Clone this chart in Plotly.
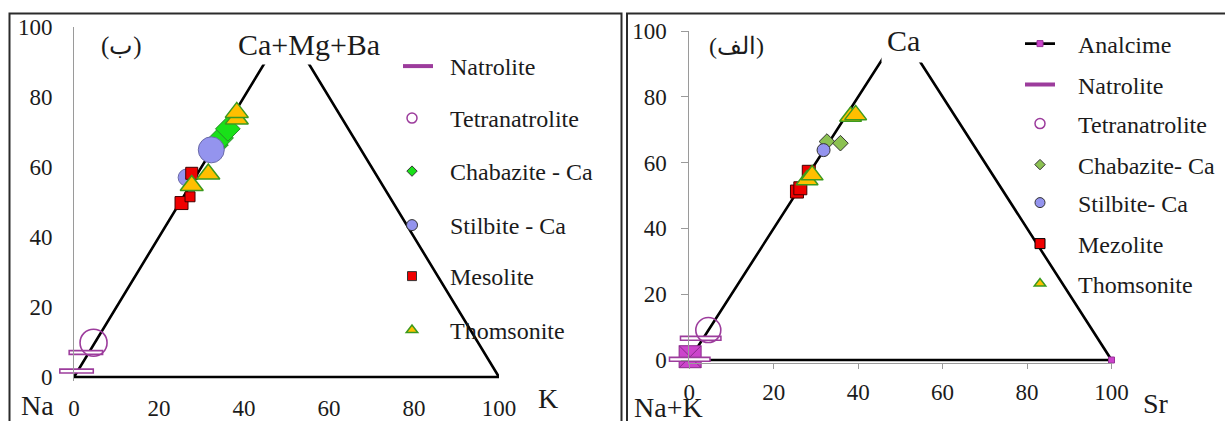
import plotly.graph_objects as go

# ===================== DATA =====================
# triangle outline (x, y in the Excel-style 0..100 frame)
tri_x = [0, 50, 100, 0]
tri_y = [0, 100, 0, 0]

# ---- left panel (ب) : Na / Ca+Mg+Ba / K ----
l_natrolite_x = [0.6, 2.8]
l_natrolite_y = [1.7, 7.0]
l_tetranatrolite_x = [4.6]
l_tetranatrolite_y = [9.8]
l_chabazite_x = [33.4, 34.6, 36.2]
l_chabazite_y = [66.3, 68.3, 70.9]
l_stilbite_x = [26.5, 32.3]
l_stilbite_y = [57.0, 64.9]
l_mesolite_x = [25.3, 27.3, 27.7]
l_mesolite_y = [49.7, 51.5, 58.2]
l_thomsonite_x = [27.7, 31.6, 38.3, 38.3]
l_thomsonite_y = [54.7, 58.0, 73.7, 75.6]

# ---- right panel (الف) : Na+K / Ca / Sr ----
r_analcime_x = [0.2]
r_analcime_y = [1.0]
r_natrolite_x = [0.1, 2.7]
r_natrolite_y = [0.2, 6.6]
r_tetranatrolite_x = [4.5]
r_tetranatrolite_y = [9.1]
r_chabazite_x = [32.6, 35.8]
r_chabazite_y = [66.4, 65.9]
r_stilbite_x = [31.8]
r_stilbite_y = [63.8]
r_mezolite_x = [25.5, 26.3, 28.3]
r_mezolite_y = [51.2, 52.2, 57.2]
r_thomsonite_x = [27.9, 29.1, 38.2, 39.4]
r_thomsonite_y = [54.7, 56.2, 74.0, 74.5]

tick_vals = [0, 20, 40, 60, 80, 100]
tick_text = ["0", "20", "40", "60", "80", "100"]

left_names = ["Natrolite", "Tetranatrolite", "Chabazite - Ca", "Stilbite - Ca", "Mesolite", "Thomsonite"]
right_names = ["Analcime", "Natrolite", "Tetranatrolite", "Chabazite- Ca", "Stilbite- Ca", "Mezolite", "Thomsonite"]

# ===================== STYLE =====================
W, H = 1225, 421
FONT = "Liberation Serif"
INK = "#1b1b1b"
AXIS_GREY = "#9a9a9a"
PURPLE = "#9c3c9c"
MAGENTA = "#cc44cc"
GREEN_L = "#19e019"
GREEN_L_EDGE = "#2a8a2a"
GREEN_R = "#8cc152"
BLUE = "#9494ee"
RED = "#f00000"
GOLD = "#ffbf00"
TRI_EDGE = "#3c9a1e"
DARK = "#333333"
NBSP = "\u00a0"


def px(p):
    return p / W


def py(p):
    return 1 - p / H


def dom_x(p0, p100, lo, hi):
    k = (p100 - p0) / 100.0
    return [(p0 + k * lo) / W, (p0 + k * hi) / W]


def dom_y(p0, p100, lo, hi):
    k = (p100 - p0) / 100.0
    return [1 - (p0 + k * lo) / H, 1 - (p0 + k * hi) / H]


fig = go.Figure()


def pts(x, y, ax, symbol, size, fill, edge, ew):
    xa, ya = ax
    fig.add_trace(go.Scatter(
        x=x, y=y, xaxis=xa, yaxis=ya, mode="markers", showlegend=False,
        cliponaxis=False, hoverinfo="skip",
        marker=dict(symbol=symbol, size=size, color=fill, opacity=1,
                    line=dict(color=edge, width=ew))))


def natrolite(x, y, ax, size):
    xa, ya = ax
    fig.add_trace(go.Scatter(
        x=x, y=y, xaxis=xa, yaxis=ya, mode="markers", showlegend=False,
        cliponaxis=False, hoverinfo="skip",
        marker=dict(symbol="line-ew", size=size, opacity=1,
                    line=dict(color=PURPLE, width=5.5))))
    fig.add_trace(go.Scatter(
        x=x, y=y, xaxis=xa, yaxis=ya, mode="markers", showlegend=False,
        cliponaxis=False, hoverinfo="skip",
        marker=dict(symbol="line-ew", size=size - 2.2, opacity=1,
                    line=dict(color="white", width=2.2))))


def legend_entry(lid, name, nb, mode="markers", marker=None, line=None):
    fig.add_trace(go.Scatter(
        x=[None], y=[None], mode=mode, name=NBSP * nb + name, legend=lid,
        showlegend=True, hoverinfo="skip", marker=marker, line=line))


LEFT = ("x", "y")
RIGHT = ("x2", "y2")

# ---------- left panel ----------
fig.add_trace(go.Scatter(x=tri_x, y=tri_y, xaxis="x", yaxis="y", mode="lines",
                         line=dict(color="black", width=2.6), showlegend=False,
                         hoverinfo="skip"))
natrolite(l_natrolite_x, l_natrolite_y, LEFT, 25)
pts(l_tetranatrolite_x, l_tetranatrolite_y, LEFT, "circle-open", 27, PURPLE, PURPLE, 1.6)
pts(l_chabazite_x, l_chabazite_y, LEFT, "diamond", 19, GREEN_L, GREEN_L_EDGE, 1)
pts(l_stilbite_x, l_stilbite_y, LEFT, "circle", [17, 26], BLUE, "#6a6aa8", 1)
pts(l_mesolite_x, l_mesolite_y, LEFT, "square", [13, 10, 12], RED, "#400000", 1)
pts(l_thomsonite_x, l_thomsonite_y, LEFT, "triangle-up", 20, GOLD, TRI_EDGE, 1.5)

# ---------- right panel ----------
fig.add_trace(go.Scatter(x=tri_x, y=tri_y, xaxis="x2", yaxis="y2", mode="lines+markers",
                         name=NBSP * 3 + right_names[0], legend="legend7", showlegend=True,
                         line=dict(color="black", width=2.6), cliponaxis=False,
                         marker=dict(symbol="square", size=6, color=MAGENTA,
                                     line=dict(color="#993399", width=1)),
                         hoverinfo="skip"))
pts(r_analcime_x, r_analcime_y, RIGHT, "square-x", 22, MAGENTA, "#8a2a8a", 1)
natrolite(r_natrolite_x, r_natrolite_y, RIGHT, 30)
pts(r_tetranatrolite_x, r_tetranatrolite_y, RIGHT, "circle-open", 25, PURPLE, PURPLE, 1.6)
pts(r_chabazite_x, r_chabazite_y, RIGHT, "diamond", 12, GREEN_R, DARK, 1)
pts(r_stilbite_x, r_stilbite_y, RIGHT, "circle", 13, BLUE, DARK, 1)
pts(r_mezolite_x, r_mezolite_y, RIGHT, "square", 13, RED, "#400000", 1)
pts(r_thomsonite_x, r_thomsonite_y, RIGHT, "triangle-up", 19, GOLD, TRI_EDGE, 1.5)

# ---------- legend entries (symbols only, each placed on its own row) ----------
left_syms = [
    dict(mode="lines", line=dict(color=PURPLE, width=4)),
    dict(marker=dict(symbol="circle-open", size=10, color=PURPLE, line=dict(width=1.5, color=PURPLE))),
    dict(marker=dict(symbol="diamond", size=8, color=GREEN_L, line=dict(width=1, color=DARK))),
    dict(marker=dict(symbol="circle", size=11, color=BLUE, line=dict(width=1, color=DARK))),
    dict(marker=dict(symbol="square", size=9, color=RED, line=dict(width=1, color=DARK))),
    dict(marker=dict(symbol="triangle-up", size=10, color=GOLD, line=dict(width=1.5, color=TRI_EDGE))),
]
right_syms = [
    None,
    dict(mode="lines", line=dict(color=PURPLE, width=4)),
    dict(marker=dict(symbol="circle-open", size=10, color=PURPLE, line=dict(width=1.5, color=PURPLE))),
    dict(marker=dict(symbol="diamond", size=8, color=GREEN_R, line=dict(width=1, color=DARK))),
    dict(marker=dict(symbol="circle", size=10, color=BLUE, line=dict(width=1, color=DARK))),
    dict(marker=dict(symbol="square", size=10, color=RED, line=dict(width=1, color="black"))),
    dict(marker=dict(symbol="triangle-up", size=10, color=GOLD, line=dict(width=1.5, color=TRI_EDGE))),
]
left_rows = [66.5, 118.5, 171.5, 225.5, 276.5, 330.5]
right_rows = [44, 85, 124, 165, 203, 244, 284]

legend_layout = {}
for i, (nm, s) in enumerate(zip(left_names, left_syms)):
    lid = "legend" if i == 0 else "legend%d" % (i + 1)
    legend_entry(lid, nm, 2 if i == 0 else 3, **s)
    legend_layout[lid] = dict(x=px(398 if i == 0 else 392), y=py(left_rows[i]),
                              xanchor="left", yanchor="middle")
for j, (nm, s) in enumerate(zip(right_names, right_syms)):
    lid = "legend%d" % (j + 7)
    if s is not None:
        legend_entry(lid, nm, 3, **s)
    legend_layout[lid] = dict(x=px(1020), y=py(right_rows[j]),
                              xanchor="left", yanchor="middle")
for lid, d in legend_layout.items():
    d.update(xref="container", yref="container",
             bgcolor="rgba(0,0,0,0)", borderwidth=0, itemsizing="trace",
             font=dict(family=FONT, size=24, color=INK), itemclick=False,
             itemdoubleclick=False)

# ---------- axes ----------
tickfont = dict(family=FONT, size=23, color=INK)
axis_common = dict(tickvals=tick_vals, ticktext=tick_text, showgrid=False,
                   zeroline=False, tickfont=tickfont, fixedrange=True, automargin=False)

fig.update_layout(
    width=W, height=H, autosize=False,
    margin=dict(l=0, r=0, t=0, b=0, pad=0, autoexpand=False),
    font=dict(family=FONT, color=INK),
    paper_bgcolor="white", plot_bgcolor="rgba(0,0,0,0)",
    showlegend=True,
    xaxis=dict(axis_common, domain=dom_x(74, 499, 0, 100), range=[0, 100], anchor="y",
               showline=False, ticks="", ticklabelstandoff=11),
    yaxis=dict(axis_common, domain=dom_y(377, 27, -1, 100), range=[-1, 100], anchor="x",
               showline=True, linecolor=AXIS_GREY, linewidth=1, ticks="",
               ticklabelstandoff=16),
    xaxis2=dict(axis_common, domain=dom_x(689.3, 1111.5, 0, 100), range=[0, 100], anchor="y2",
                showline=True, linecolor=AXIS_GREY, linewidth=1, ticks="outside",
                ticklen=5, tickcolor=AXIS_GREY, ticklabelstandoff=3),
    yaxis2=dict(axis_common, domain=dom_y(360, 31, -1, 100), range=[-1, 100], anchor="x2",
                showline=True, linecolor=AXIS_GREY, linewidth=1, ticks="outside",
                ticklen=7, tickcolor=AXIS_GREY, ticklabelstandoff=10),
    **legend_layout,
)

# ---------- frames ----------
fig.add_shape(type="rect", xref="paper", yref="paper", x0=px(9.5), x1=px(621.5),
              y0=py(440), y1=py(13.5), line=dict(color="#2b2b2b", width=2), layer="below")
fig.add_shape(type="rect", xref="paper", yref="paper", x0=px(627), x1=px(1240),
              y0=py(440), y1=py(13.5), line=dict(color="#2b2b2b", width=2), layer="below")

# ---------- texts ----------
def note(text, x, y, size, bg=None, yanchor="middle", pad=1):
    fig.add_annotation(text=text, xref="paper", yref="paper", x=px(x), y=py(y),
                       xanchor="center", yanchor=yanchor, showarrow=False,
                       font=dict(family=FONT, size=size, color=INK),
                       bgcolor=bg, borderpad=pad)

note("Ca+Mg+Ba", 309, 65, 30, bg="white", yanchor="bottom", pad=3)
note("Ca", 903, 63, 30, bg="white", yanchor="bottom", pad=5)
note("(ب)", 121, 46, 25)
note("(الف)", 736, 46, 24)
note("Na", 37, 405, 28)
note("K", 548, 398, 28)
note("Na+K", 668, 407, 28)
note("Sr", 1156, 403, 28)

fig.write_html("out.html", config={"displayModeBar": False},
               post_script="document.body.style.margin='0';")
